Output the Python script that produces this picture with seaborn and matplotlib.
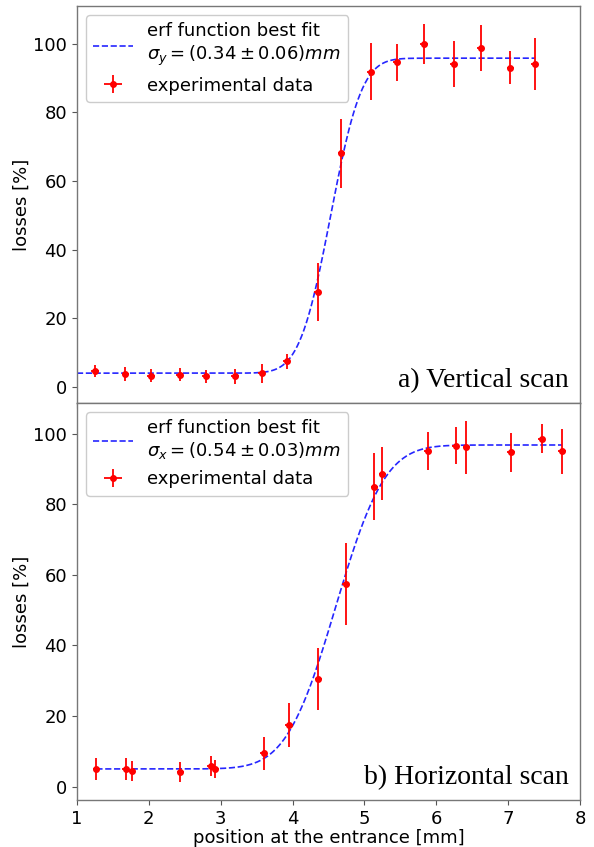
import math
import numpy as np
import pandas as pd
import matplotlib
matplotlib.use('Agg')
import matplotlib.pyplot as plt
import seaborn as sns

# vertical scan data
pos_v = [1.25, 1.67, 2.03, 2.43, 2.79, 3.20, 3.57, 3.92, 4.35, 4.68, 5.09, 5.45, 5.83, 6.24, 6.62, 7.03, 7.37]
loss_v = [4.6, 3.7, 3.3, 3.5, 3.1, 3.1, 4.0, 7.5, 27.7, 68.1, 91.9, 94.6, 99.9, 94.2, 98.8, 93.0, 94.2]
err_v = [1.8, 2.0, 1.8, 1.9, 1.9, 2.2, 2.8, 2.2, 8.5, 10.0, 8.2, 5.4, 5.8, 6.7, 6.6, 4.8, 7.6]

# horizontal scan data
pos_h = [1.27, 1.68, 1.76, 2.44, 2.86, 2.92, 3.60, 3.95, 4.36, 4.74, 5.14, 5.25, 5.88, 6.27, 6.42, 7.04, 7.47, 7.75]
loss_h = [5.0, 4.9, 4.4, 4.1, 5.9, 5.0, 9.4, 17.4, 30.4, 57.5, 85.0, 88.6, 95.0, 96.6, 96.1, 94.7, 98.6, 95.0]
err_h = [3.2, 3.1, 2.8, 2.8, 2.9, 2.5, 4.7, 6.3, 8.8, 11.6, 9.5, 7.5, 5.4, 5.2, 7.5, 5.6, 4.1, 6.3]

pos_err = 0.05

# erf fit parameters: low, high, centre, sigma, x range
fit_v = dict(lo=4.0, hi=95.8, mu=4.53, sigma=0.34, x0=1.0, x1=7.37)
fit_h = dict(lo=5.0, hi=96.8, mu=4.60, sigma=0.54, x0=1.27, x1=7.75)

labels_fit = [r'erf function best fit' + '\n' + r'$\sigma_y = (0.34 \pm 0.06)mm$',
              r'erf function best fit' + '\n' + r'$\sigma_x = (0.54 \pm 0.03)mm$']
panel_text = ['a) Vertical scan', 'b) Horizontal scan']


def erf_curve(p):
    xs = np.linspace(p['x0'], p['x1'], 400)
    ys = [p['lo'] + (p['hi'] - p['lo']) / 2 * (1 + math.erf((x - p['mu']) / (math.sqrt(2) * p['sigma']))) for x in xs]
    return pd.DataFrame({'x': xs, 'y': ys})


sns.set_style('ticks')
plt.rcParams['font.family'] = ['DejaVu Sans']
for k in ['text.color', 'axes.labelcolor', 'xtick.labelcolor', 'ytick.labelcolor']:
    plt.rcParams[k] = 'black'

fig = plt.figure(figsize=(5.94, 8.47), dpi=100)
ax1 = fig.add_axes([0.1296, 0.5242, 0.8468, 0.4687])
ax2 = fig.add_axes([0.1296, 0.0555, 0.8468, 0.4687], sharex=ax1)

panels = [(ax1, pos_v, loss_v, err_v, fit_v, (-4.7, 111)),
          (ax2, pos_h, loss_h, err_h, fit_h, (-3.8, 108.7))]

for i, (ax, x, y, e, fit, ylim) in enumerate(panels):
    curve = erf_curve(fit)
    sns.lineplot(data=curve, x='x', y='y', ax=ax, color='blue', linestyle='--',
                 linewidth=1.2, alpha=0.85, label=labels_fit[i])
    ax.errorbar(x, y, yerr=e, xerr=pos_err, fmt='o', color='red', markersize=4,
                elinewidth=1.3, ecolor='red', capsize=0, label='experimental data')
    ax.set_xlim(1, 8)
    ax.set_ylim(*ylim)
    ax.set_yticks([0, 20, 40, 60, 80, 100])
    ax.set_ylabel('losses [%]', fontsize=13, labelpad=2)
    ax.set_xlabel('')
    ax.tick_params(labelsize=13, length=3.5, width=0.8, color='#555555')
    for s in ax.spines.values():
        s.set_color('#777777')
        s.set_linewidth(1.0)
    ax.legend(loc='upper left', fontsize=13, handlelength=2.2, borderpad=0.4,
              labelspacing=0.5, framealpha=1, edgecolor='#cccccc')
    ax.text(0.978, 0.04, panel_text[i], transform=ax.transAxes, ha='right', va='baseline',
            fontsize=20, family='Liberation Serif')

ax1.tick_params(labelbottom=False)
ax2.set_xticks(range(1, 9))
ax2.set_xlabel('position at the entrance [mm]', fontsize=13, labelpad=1)

fig.savefig('out.png', dpi=100)
